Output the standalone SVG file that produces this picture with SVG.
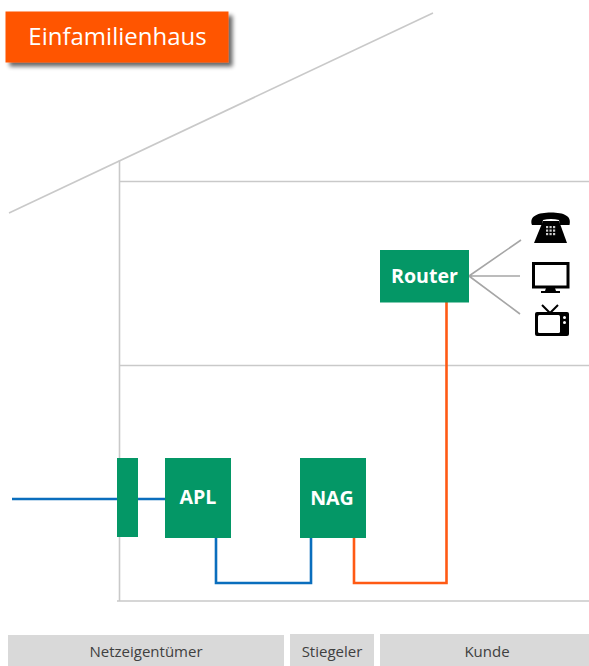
<svg xmlns="http://www.w3.org/2000/svg" width="589" height="666" viewBox="0 0 589 666">
<defs><filter id="sh" x="-10%" y="-20%" width="125%" height="150%"><feGaussianBlur in="SourceAlpha" stdDeviation="2.2"/><feOffset dx="3.5" dy="4"/><feComponentTransfer><feFuncA type="linear" slope="0.6"/></feComponentTransfer><feMerge><feMergeNode/><feMergeNode in="SourceGraphic"/></feMerge></filter></defs>
<style>
text{font-family:"Open Sans","Noto Sans","DejaVu Sans",sans-serif;text-anchor:middle}
.n{fill:#049766}
.t{fill:#fff;font-weight:700;font-size:19.600px}
.b{fill:#d9d9d9}
.l{fill:#404040;font-size:15px}
.w{stroke:#c9c9c9;stroke-width:1.6;fill:none}
.g{stroke:#a6a6a6;stroke-width:1.6;fill:none}
.bl{stroke:#0a6ebd;stroke-width:2.6;fill:none}
.o{stroke:#ff5a14;stroke-width:2.6;fill:none}
</style>
<g id="house">
<path class="w" d="M9 213L433 13"/>
<path class="w" d="M119.500 160V601"/>
<path class="w" d="M119 181.500H589"/>
<path class="w" d="M119 365.500H589"/>
<path class="w" d="M117 601H589"/>
</g>
<g id="connectors">
<path class="bl" d="M12 499H165"/>
<path class="bl" d="M216 538V583H311V538"/>
<path class="o" d="M354 538V583H446.500V302"/>
<path class="g" d="M469 276L521 240M469 276H520M469 276L520 314"/>
</g>
<g id="title"><rect x="5.500" y="11.500" width="223" height="51" fill="#ff5500" filter="url(#sh)"/><text x="117.500" y="45" fill="#fff" font-size="24">Einfamilienhaus</text></g>
<g id="wall-box"><rect class="n" x="117" y="458" width="21" height="79"/></g>
<g id="apl"><rect class="n" x="165" y="458" width="66" height="80"/><text class="t" x="198" y="504">APL</text></g>
<g id="nag"><rect class="n" x="300" y="458" width="66" height="80"/><text class="t" x="332" y="505">NAG</text></g>
<g id="router"><rect class="n" x="380" y="250" width="89" height="52.500"/><text class="t" x="424.500" y="282.500">Router</text></g>
<g id="phone">
<path d="M532 225C529 216 538 212.500 551 212.500C564 212.500 572 216 569.500 225L560 225L559 220C554 218.500 548 218.500 543 220L542 225Z" fill="#000"/>
<path d="M543 221H559L567 243H534Z" fill="#000"/>
<g fill="#fff" opacity=".8"><rect x="546" y="226" width="2.200" height="2.200"/><rect x="549.500" y="226" width="2.200" height="2.200"/><rect x="553" y="226" width="2.200" height="2.200"/><rect x="546" y="229.500" width="2.200" height="2.200"/><rect x="549.500" y="229.500" width="2.200" height="2.200"/><rect x="553" y="229.500" width="2.200" height="2.200"/><rect x="546" y="233" width="2.200" height="2.200"/><rect x="549.500" y="233" width="2.200" height="2.200"/><rect x="553" y="233" width="2.200" height="2.200"/></g>
</g>
<g id="monitor">
<rect x="533.500" y="263.500" width="34.500" height="23.500" fill="#fff" stroke="#000" stroke-width="3"/>
<path d="M546 288H555L556 291H560V293H541V291H545Z" fill="#000"/>
</g>
<g id="tv">
<path d="M542 305L550 313L558 305" fill="none" stroke="#000" stroke-width="2"/>
<rect x="535" y="312" width="34" height="24" rx="2" fill="#000"/>
<rect x="538" y="315" width="22" height="18" rx="1.500" fill="#fff"/>
<circle cx="564.500" cy="317.500" r="1.500" fill="#fff"/><circle cx="564.500" cy="322.500" r="1.500" fill="#fff"/>
</g>
<g id="band-netz"><rect class="b" x="8" y="635" width="276" height="31"/><text class="l" x="146" y="656.500">Netzeigentümer</text></g>
<g id="band-stieg"><rect class="b" x="290" y="634" width="84" height="32"/><text class="l" x="332" y="656.500">Stiegeler</text></g>
<g id="band-kunde"><rect class="b" x="380" y="634" width="209" height="32"/><text class="l" x="487" y="656.500">Kunde</text></g>
</svg>
